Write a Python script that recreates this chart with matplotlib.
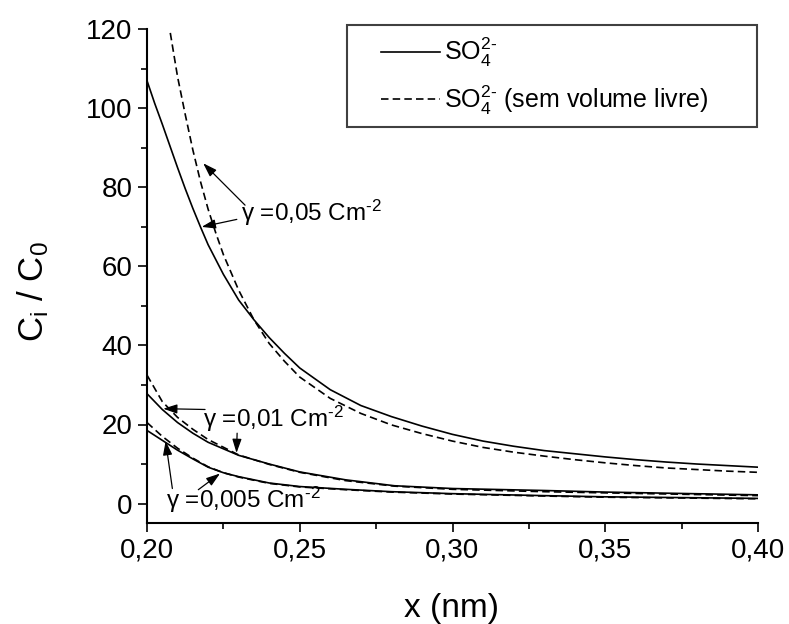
import numpy as np
import matplotlib
matplotlib.use("Agg")
import matplotlib.pyplot as plt
from matplotlib.patches import Rectangle
from matplotlib.ticker import MultipleLocator

plt.rcParams['font.family'] = ['Liberation Sans', 'DejaVu Sans']
plt.rcParams['mathtext.fontset'] = 'custom'
plt.rcParams['mathtext.rm'] = 'Liberation Sans'
plt.rcParams['mathtext.it'] = 'Liberation Sans:italic'

# gamma = 0,05 Cm^-2
x_a = [0.200, 0.2025, 0.205, 0.2075, 0.210, 0.2125, 0.215, 0.2175, 0.220, 0.225, 0.230,
       0.235, 0.240, 0.245, 0.250, 0.260, 0.270, 0.280, 0.290, 0.300, 0.310, 0.320,
       0.330, 0.340, 0.350, 0.360, 0.370, 0.380, 0.390, 0.400]
solid_a = [107, 101.3, 96, 90.5, 85, 79.7, 74.7, 70, 65.5, 58, 51.5,
           46.5, 42, 38, 34.3, 28.8, 24.8, 22, 19.6, 17.5, 15.8, 14.5,
           13.4, 12.6, 11.8, 11.1, 10.5, 10.0, 9.6, 9.2]
xd_a = [0.2070, 0.2100, 0.2125, 0.2150, 0.2175, 0.2200, 0.2225, 0.2250, 0.2300,
        0.2350, 0.2400, 0.2450, 0.2500, 0.2600, 0.2700, 0.2800, 0.2900, 0.3000,
        0.3100, 0.3200, 0.3300, 0.3400, 0.3500, 0.3600, 0.3700, 0.3800, 0.3900, 0.4000]
dashed_a = [122, 108, 98.5, 89.5, 81.5, 74.5, 68.5, 63, 54,
            46.5, 40.5, 36, 32, 26.6, 22.8, 19.9, 17.7, 15.8,
            14.2, 13, 12, 11.1, 10.3, 9.6, 9.0, 8.6, 8.2, 7.9]

# gamma = 0,01 Cm^-2
x_b = [0.200, 0.205, 0.210, 0.215, 0.220, 0.230, 0.240, 0.250, 0.265, 0.281,
       0.300, 0.330, 0.350, 0.400]
solid_b = [27.8, 23.8, 20.5, 17.8, 15.5, 12.2, 10.0, 8.0, 6.0, 4.5,
           3.8, 3.3, 2.9, 2.2]
dashed_b = [32.5, 25.8, 21.8, 18.8, 16.2, 12.3, 9.9, 7.9, 5.8, 4.4,
            3.6, 3.0, 2.7, 2.0]

# gamma = 0,005 Cm^-2
x_c = [0.200, 0.205, 0.210, 0.215, 0.220, 0.225, 0.230, 0.240, 0.250, 0.265,
       0.280, 0.300, 0.330, 0.350, 0.400]
solid_c = [18.5, 16.0, 13.5, 11.3, 9.2, 7.8, 6.8, 5.2, 4.3, 3.6,
           3.0, 2.5, 2.0, 1.7, 1.3]
dashed_c = [20.5, 17.0, 14.0, 11.5, 9.3, 7.8, 6.7, 5.1, 4.2, 3.5,
            2.9, 2.4, 1.9, 1.6, 1.2]

x_ticks = [0.20, 0.25, 0.30, 0.35, 0.40]
x_ticklabels = ['0,20', '0,25', '0,30', '0,35', '0,40']
y_ticks = [0, 20, 40, 60, 80, 100, 120]

fig = plt.figure(figsize=(7.89, 6.24), dpi=100)
ax = fig.add_axes([147 / 789, 1 - 523.3 / 624, 611 / 789, (523.3 - 29.3) / 624])

lw = 1.2
dash = (4.5, 2.5)
ax.plot(x_a, solid_a, color='k', lw=lw, label=r'SO$_4^{2\text{-}}$')
ax.plot(xd_a, dashed_a, color='k', lw=lw, dashes=dash,
        label=r'SO$_4^{2\text{-}}$ (sem volume livre)')
ax.plot(x_b, solid_b, color='k', lw=lw)
ax.plot(x_b, dashed_b, color='k', lw=lw, dashes=dash)
ax.plot(x_c, solid_c, color='k', lw=lw)
ax.plot(x_c, dashed_c, color='k', lw=lw, dashes=dash)

ax.set_xlim(0.20, 0.40)
ax.set_ylim(-5, 120)
ax.set_xticks(x_ticks)
ax.set_xticklabels(x_ticklabels)
ax.set_yticks(y_ticks)
ax.xaxis.set_minor_locator(MultipleLocator(0.025))
ax.yaxis.set_minor_locator(MultipleLocator(10))
ax.tick_params(which='major', direction='out', length=6.5, width=1.2, labelsize=20, pad=4)
ax.tick_params(which='minor', direction='out', length=4, width=1.2)
for s in ['top', 'right']:
    ax.spines[s].set_visible(False)
for s in ['left', 'bottom']:
    ax.spines[s].set_linewidth(1.5)

fig.text(452 / 789, 1 - 608 / 624, 'x (nm)', ha='center', va='center', fontsize=24)
fig.text(33 / 789, 1 - 292 / 624, r'C$_\mathrm{i}$ / C$_\mathrm{0}$', ha='center', va='center',
         rotation=90, fontsize=25)

# legend: entries without frame, frame drawn as a separate box
leg = ax.legend(loc='upper left', bbox_to_anchor=(0.383, 0.9865), borderaxespad=0,
                borderpad=0, fontsize=18, handlelength=2.36, handletextpad=0.15,
                labelspacing=0.55, frameon=False)
ax.add_patch(Rectangle((0.3273, 0.8022), 0.6711, 0.2065, transform=ax.transAxes,
                       fill=False, edgecolor='#404040', lw=1.5, clip_on=False))

arrow = dict(arrowstyle='-|>,head_length=0.6,head_width=0.2', color='k', lw=0.9,
             mutation_scale=14, shrinkA=0, shrinkB=0)
tsize = 17.5

ax.text(0.2308, 73.5, r'γ =0,05 Cm$^{\text{-}2}$', ha='left', va='center', fontsize=tsize)
ax.annotate('', xy=(0.2184, 86.1), xytext=(0.2321, 75.5), arrowprops=arrow)
ax.annotate('', xy=(0.2179, 70.0), xytext=(0.2294, 71.9), arrowprops=arrow)

ax.text(0.2183, 21.4, r'γ =0,01 Cm$^{\text{-}2}$', ha='left', va='center', fontsize=tsize)
ax.annotate('', xy=(0.2053, 24.0), xytext=(0.2190, 23.8), arrowprops=arrow)
ax.annotate('', xy=(0.2293, 12.8), xytext=(0.2295, 17.8), arrowprops=arrow)

ax.text(0.2062, 0.8, r'γ =0,005 Cm$^{\text{-}2}$', ha='left', va='center', fontsize=tsize)
ax.annotate('', xy=(0.2061, 15.8), xytext=(0.2083, 3.8), arrowprops=arrow)
ax.annotate('', xy=(0.2239, 7.6), xytext=(0.2168, 3.5), arrowprops=arrow)

fig.savefig('out.png', dpi=100)
